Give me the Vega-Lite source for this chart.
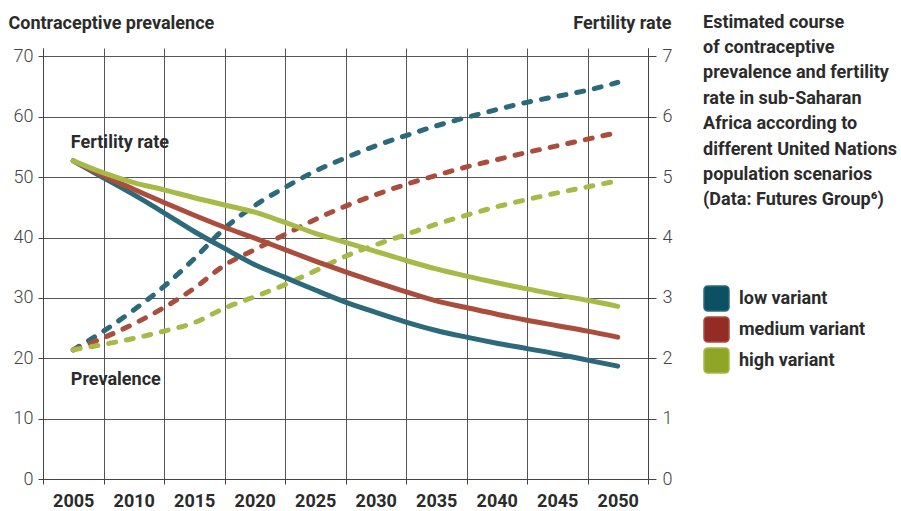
{
  "$schema": "https://vega.github.io/schema/vega-lite/v6.json",
  "width": 605,
  "height": 431,
  "autosize": {"type": "none"},
  "padding": {"left": 43, "top": 48, "right": 253, "bottom": 32},
  "background": "white",
  "config": {
    "view": {"stroke": null},
    "font": "Roboto"
  },
  "data": {
    "values": [
      {"year": 2005, "variant": "low variant", "prevalence": 21.4, "fertility": 5.27},
      {"year": 2007.5, "variant": "low variant", "prevalence": 24.5, "fertility": 4.99},
      {"year": 2010, "variant": "low variant", "prevalence": 28.0, "fertility": 4.71},
      {"year": 2012.5, "variant": "low variant", "prevalence": 31.9, "fertility": 4.41},
      {"year": 2015, "variant": "low variant", "prevalence": 36.5, "fertility": 4.10},
      {"year": 2017.5, "variant": "low variant", "prevalence": 41.5, "fertility": 3.82},
      {"year": 2020, "variant": "low variant", "prevalence": 45.3, "fertility": 3.55},
      {"year": 2022.5, "variant": "low variant", "prevalence": 48.3, "fertility": 3.34},
      {"year": 2025, "variant": "low variant", "prevalence": 51.0, "fertility": 3.13},
      {"year": 2027.5, "variant": "low variant", "prevalence": 53.2, "fertility": 2.93},
      {"year": 2030, "variant": "low variant", "prevalence": 55.2, "fertility": 2.76},
      {"year": 2032.5, "variant": "low variant", "prevalence": 56.9, "fertility": 2.60},
      {"year": 2035, "variant": "low variant", "prevalence": 58.5, "fertility": 2.46},
      {"year": 2037.5, "variant": "low variant", "prevalence": 59.9, "fertility": 2.35},
      {"year": 2040, "variant": "low variant", "prevalence": 61.2, "fertility": 2.25},
      {"year": 2042.5, "variant": "low variant", "prevalence": 62.4, "fertility": 2.16},
      {"year": 2045, "variant": "low variant", "prevalence": 63.4, "fertility": 2.07},
      {"year": 2047.5, "variant": "low variant", "prevalence": 64.4, "fertility": 1.97},
      {"year": 2050, "variant": "low variant", "prevalence": 65.7, "fertility": 1.87},
      {"year": 2005, "variant": "medium variant", "prevalence": 21.4, "fertility": 5.27},
      {"year": 2007.5, "variant": "medium variant", "prevalence": 23.4, "fertility": 5.02},
      {"year": 2010, "variant": "medium variant", "prevalence": 25.7, "fertility": 4.80},
      {"year": 2012.5, "variant": "medium variant", "prevalence": 28.4, "fertility": 4.58},
      {"year": 2015, "variant": "medium variant", "prevalence": 31.6, "fertility": 4.37},
      {"year": 2017.5, "variant": "medium variant", "prevalence": 35.4, "fertility": 4.17},
      {"year": 2020, "variant": "medium variant", "prevalence": 38.0, "fertility": 3.99},
      {"year": 2022.5, "variant": "medium variant", "prevalence": 40.5, "fertility": 3.80},
      {"year": 2025, "variant": "medium variant", "prevalence": 43.0, "fertility": 3.61},
      {"year": 2027.5, "variant": "medium variant", "prevalence": 45.2, "fertility": 3.43},
      {"year": 2030, "variant": "medium variant", "prevalence": 47.1, "fertility": 3.26},
      {"year": 2032.5, "variant": "medium variant", "prevalence": 48.8, "fertility": 3.10},
      {"year": 2035, "variant": "medium variant", "prevalence": 50.3, "fertility": 2.95},
      {"year": 2037.5, "variant": "medium variant", "prevalence": 51.7, "fertility": 2.84},
      {"year": 2040, "variant": "medium variant", "prevalence": 52.9, "fertility": 2.73},
      {"year": 2042.5, "variant": "medium variant", "prevalence": 54.1, "fertility": 2.63},
      {"year": 2045, "variant": "medium variant", "prevalence": 55.2, "fertility": 2.54},
      {"year": 2047.5, "variant": "medium variant", "prevalence": 56.3, "fertility": 2.45},
      {"year": 2050, "variant": "medium variant", "prevalence": 57.4, "fertility": 2.35},
      {"year": 2005, "variant": "high variant", "prevalence": 21.4, "fertility": 5.27},
      {"year": 2007.5, "variant": "high variant", "prevalence": 22.3, "fertility": 5.07},
      {"year": 2010, "variant": "high variant", "prevalence": 23.3, "fertility": 4.91},
      {"year": 2012.5, "variant": "high variant", "prevalence": 24.5, "fertility": 4.79},
      {"year": 2015, "variant": "high variant", "prevalence": 25.9, "fertility": 4.66},
      {"year": 2017.5, "variant": "high variant", "prevalence": 28.3, "fertility": 4.54},
      {"year": 2020, "variant": "high variant", "prevalence": 30.2, "fertility": 4.42},
      {"year": 2022.5, "variant": "high variant", "prevalence": 32.2, "fertility": 4.25},
      {"year": 2025, "variant": "high variant", "prevalence": 34.5, "fertility": 4.07},
      {"year": 2027.5, "variant": "high variant", "prevalence": 36.9, "fertility": 3.92},
      {"year": 2030, "variant": "high variant", "prevalence": 38.8, "fertility": 3.77},
      {"year": 2032.5, "variant": "high variant", "prevalence": 40.5, "fertility": 3.62},
      {"year": 2035, "variant": "high variant", "prevalence": 42.2, "fertility": 3.48},
      {"year": 2037.5, "variant": "high variant", "prevalence": 43.7, "fertility": 3.36},
      {"year": 2040, "variant": "high variant", "prevalence": 45.1, "fertility": 3.25},
      {"year": 2042.5, "variant": "high variant", "prevalence": 46.3, "fertility": 3.15},
      {"year": 2045, "variant": "high variant", "prevalence": 47.4, "fertility": 3.05},
      {"year": 2047.5, "variant": "high variant", "prevalence": 48.4, "fertility": 2.96},
      {"year": 2050, "variant": "high variant", "prevalence": 49.4, "fertility": 2.86}
    ]
  },
  "encoding": {
    "x": {
      "field": "year", "type": "quantitative",
      "scale": {"domain": [2002.5, 2052.5], "nice": false, "zero": false},
      "axis": {
        "title": null,
        "values": [2002.5, 2005, 2007.5, 2010, 2012.5, 2015, 2017.5, 2020, 2022.5, 2025, 2027.5, 2030, 2032.5, 2035, 2037.5, 2040, 2042.5, 2045, 2047.5, 2050, 2052.5],
        "labelExpr": "datum.value % 5 == 0 ? '' + datum.value : ''",
        "labelOverlap": false,
        "labelFlush": false,
        "labelFontSize": 18,
        "labelFontWeight": "bold",
        "labelColor": "#2b2b2b",
        "labelPadding": 8,
        "domainColor": "#444444",
        "grid": true,
        "gridColor": "#555555",
        "gridOpacity": {"condition": {"test": "datum.value % 5 != 0", "value": 1}, "value": 0},
        "tickColor": "#444444",
        "tickSize": 5,
        "tickOpacity": {"condition": {"test": "datum.value % 5 != 0", "value": 1}, "value": 0}
      }
    }
  },
  "layer": [
    {
      "mark": {"type": "line", "strokeWidth": 5, "strokeCap": "round", "strokeDash": [7, 11], "interpolate": "monotone"},
      "encoding": {
        "y": {
          "field": "prevalence", "type": "quantitative",
          "scale": {"domain": [0, 71.4], "nice": false},
          "axis": {
            "orient": "left",
            "values": [0, 10, 20, 30, 40, 50, 60, 70],
            "grid": true,
            "gridColor": "#555555",
            "domainColor": "#444444",
            "tickColor": "#444444",
            "tickSize": 5,
            "labelFontSize": 18,
            "labelFontWeight": 300,
            "labelColor": "#444444",
            "labelPadding": 5,
            "title": "Contraceptive prevalence",
            "titleAngle": 0,
            "titleAlign": "left",
            "titleBaseline": "alphabetic",
            "titleX": -35,
            "titleY": -20,
            "titleFontSize": 18,
            "titleFontWeight": "bold",
            "titleColor": "#2b2b2b"
          }
        },
        "color": {
          "field": "variant", "type": "nominal",
          "scale": {"domain": ["low variant", "medium variant", "high variant"], "range": ["#2c6a7b", "#aa4d3d", "#a7b946"]},
          "legend": {
            "title": null,
            "orient": "none",
            "legendX": 660,
            "legendY": 237,
            "symbolType": "M-0.7,-1 H0.7 A0.3,0.3 0 0 1 1,-0.7 V0.7 A0.3,0.3 0 0 1 0.7,1 H-0.7 A0.3,0.3 0 0 1 -1,0.7 V-0.7 A0.3,0.3 0 0 1 -0.7,-1 Z",
            "symbolSize": 625,
            "rowPadding": 0,
            "labelFontSize": 18,
            "labelFontWeight": "bold",
            "labelColor": "#2b2b2b",
            "labelOffset": 9,
            "encode": {
              "symbols": {
                "update": {
                  "fill": {"signal": "datum.value === 'low variant' ? '#0d4f63' : datum.value === 'medium variant' ? '#942b25' : '#8fa528'"},
                  "stroke": {"value": "transparent"},
                  "strokeDash": {"value": []},
                  "opacity": {"value": 1}
                }
              }
            }
          }
        }
      }
    },
    {
      "mark": {"type": "line", "strokeWidth": 5, "strokeCap": "round", "interpolate": "monotone"},
      "encoding": {
        "y": {
          "field": "fertility", "type": "quantitative",
          "scale": {"domain": [0, 7.14], "nice": false},
          "axis": {
            "orient": "right",
            "values": [0, 1, 2, 3, 4, 5, 6, 7],
            "grid": false,
            "domainColor": "#444444",
            "tickColor": "#444444",
            "tickSize": 8,
            "labelFontSize": 18,
            "labelFontWeight": 300,
            "labelColor": "#444444",
            "labelPadding": 6,
            "title": "Fertility rate",
            "titleAngle": 0,
            "titleAlign": "right",
            "titleBaseline": "alphabetic",
            "titleX": 23,
            "titleY": -20,
            "titleFontSize": 18,
            "titleFontWeight": "bold",
            "titleColor": "#2b2b2b"
          }
        },
        "color": {"field": "variant", "type": "nominal"}
      }
    },
    {
      "data": {
        "values": [
          {"year": 2004.8, "v": 54.9, "t": "Fertility rate"},
          {"year": 2004.8, "v": 15.6, "t": "Prevalence"},
          {"year": 2057.05, "v": 74.77, "t": ["Estimated course", "of contraceptive", "prevalence and fertility", "rate in sub-Saharan", "Africa according to", "different United Nations", "population scenarios", "(Data: Futures Group⁶)"]}
        ]
      },
      "mark": {"type": "text", "align": "left", "baseline": "alphabetic", "fontSize": 18, "fontWeight": "bold", "color": "#2b2b2b", "lineHeight": 25.4},
      "encoding": {
        "y": {"field": "v", "type": "quantitative", "scale": {"domain": [0, 71.4], "nice": false}, "axis": null},
        "text": {"field": "t"}
      }
    }
  ],
  "resolve": {"scale": {"y": "independent"}, "axis": {"y": "independent"}}
}
